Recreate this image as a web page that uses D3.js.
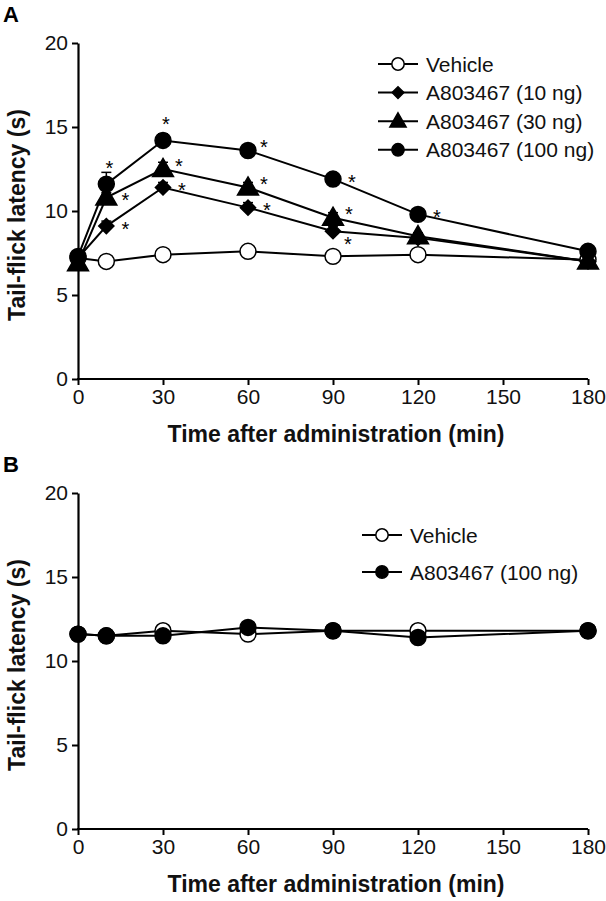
<!DOCTYPE html>
<html><head><meta charset="utf-8">
<script src="https://cdnjs.cloudflare.com/ajax/libs/d3/7.8.5/d3.min.js"></script>
<style>
html,body{margin:0;padding:0;background:#fff;}
svg{display:block;font-family:"Liberation Sans",Arial,sans-serif;}
</style></head>
<body>
<svg id="chart" width="606" height="901"></svg>
<script>
// ---- data ----
const times = [0, 10, 30, 60, 90, 120, 180];
const xTicks = [0, 30, 60, 90, 120, 150, 180];
const yTicks = [0, 5, 10, 15, 20];

// Panel A
const seriesNamesA = ["Vehicle", "A803467 (10 ng)", "A803467 (30 ng)", "A803467 (100 ng)"];
const vehicleA = [7.2, 7.0, 7.4, 7.6, 7.3, 7.4, 7.1];
const a10ngA   = [7.2, 9.1, 11.4, 10.2, 8.8, 8.4, 7.0];
const a30ngA   = [6.9, 10.8, 12.5, 11.4, 9.6, 8.5, 7.0];
const a100ngA  = [7.3, 11.6, 14.2, 13.6, 11.9, 9.8, 7.6];
const vehicleAErr = [0.2, 0.2, 0.2, 0.2, 0.2, 0.2, 0.2];
const a10ngAErr   = [0.2, 0.3, 0.3, 0.3, 0.3, 0.2, 0.2];
const a30ngAErr   = [0.2, 0.3, 0.4, 0.3, 0.3, 0.2, 0.2];
const a100ngAErr  = [0.2, 0.7, 0.4, 0.3, 0.3, 0.3, 0.2];
// significance markers: "" none, otherwise placement of the asterisk
const a10ngSig  = ["", "right", "right", "right", "downright", "", ""];
const a30ngSig  = ["", "right", "upright", "upright", "upright", "", ""];
const a100ngSig = ["", "above", "above", "upright", "right", "right", ""];

// Panel B
const seriesNamesB = ["Vehicle", "A803467 (100 ng)"];
const vehicleB = [11.6, 11.5, 11.8, 11.6, 11.8, 11.8, 11.8];
const a100ngB  = [11.6, 11.5, 11.5, 12.0, 11.8, 11.4, 11.8];

// ---- drawing ----
const svg = d3.select("#chart");
const FONT = '"Liberation Sans", Arial, sans-serif';

const x = d3.scaleLinear().domain([0, 180]).range([78, 588]);

function symbolFor(type) {
  return type === "diamond" ? d3.symbolSquare :
         type === "triangle" ? d3.symbolTriangle : d3.symbolCircle;
}
function sizeFor(type) {
  return type === "diamond" ? 115 : type === "triangle" ? 190 : 200;
}
function markerTransform(type, cx, cy) {
  if (type === "diamond") return `translate(${cx},${cy}) rotate(45)`;
  if (type === "triangle") return `translate(${cx},${cy + 1.5})`;
  return `translate(${cx},${cy})`;
}

function drawPanel(cfg) {
  const y = d3.scaleLinear().domain([0, 20]).range([cfg.y0, cfg.y20]);
  const g = svg.append("g");

  // axes
  const xa = g.append("g").attr("transform", `translate(0,${cfg.y0})`)
    .call(d3.axisBottom(x).tickValues(xTicks).tickSize(6).tickPadding(4).tickSizeOuter(0));
  const ya = g.append("g").attr("transform", `translate(${x(0)},0)`)
    .call(d3.axisLeft(y).tickValues(yTicks).tickSize(6).tickPadding(4).tickSizeOuter(0));
  [xa, ya].forEach(a => {
    a.select(".domain").attr("stroke", "#000").attr("stroke-width", 2.2);
    a.selectAll(".tick line").attr("stroke", "#000").attr("stroke-width", 2);
    a.selectAll("text").attr("font-family", FONT).attr("font-size", 21).attr("fill", "#111");
  });
  xa.select(".domain").attr("d", `M${x(0)-1},0H${x(180)}`);

  // axis titles
  g.append("text").attr("x", (x(0) + x(180)) / 2 + 3).attr("y", cfg.y0 + 63)
    .attr("text-anchor", "middle").attr("font-family", FONT).attr("font-weight", "bold")
    .attr("font-size", 23).attr("fill", "#111").text("Time after administration (min)");
  g.append("text").attr("transform", `translate(${25},${(cfg.y0 + cfg.y20) / 2 + 4}) rotate(-90)`)
    .attr("text-anchor", "middle").attr("font-family", FONT).attr("font-weight", "bold")
    .attr("font-size", 23).attr("fill", "#111").text("Tail-flick latency (s)");
  // panel letter
  g.append("text").attr("x", 3).attr("y", cfg.y20 - 21).attr("font-family", FONT)
    .attr("font-weight", "bold").attr("font-size", 22).attr("fill", "#000").text(cfg.letter);

  const line = d3.line().x(d => x(d.t)).y(d => y(d.v));

  // lines first
  cfg.series.forEach(s => {
    const pts = times.map((t, i) => ({t, v: s.values[i]}));
    g.append("path").datum(pts).attr("d", line).attr("fill", "none")
      .attr("stroke", "#000").attr("stroke-width", 2);
  });
  // error bars
  cfg.series.forEach(s => {
    if (!s.err) return;
    times.forEach((t, i) => {
      const yt = y(s.values[i] + s.err[i]);
      g.append("line").attr("x1", x(t)).attr("x2", x(t)).attr("y1", y(s.values[i])).attr("y2", yt)
        .attr("stroke", "#000").attr("stroke-width", 1.5);
      g.append("line").attr("x1", x(t) - 5).attr("x2", x(t) + 5).attr("y1", yt).attr("y2", yt)
        .attr("stroke", "#000").attr("stroke-width", 1.5);
    });
  });
  // markers
  cfg.series.forEach(s => {
    const sym = d3.symbol().type(symbolFor(s.shape)).size(sizeFor(s.shape));
    times.forEach((t, i) => {
      g.append("path").attr("d", sym())
        .attr("transform", markerTransform(s.shape, x(t), y(s.values[i])))
        .attr("fill", s.open ? "#fff" : "#000").attr("stroke", "#000").attr("stroke-width", 1.5);
    });
  });
  // asterisks
  const off = {above: [3, -21], right: [19, -2], upright: [16, -8], downright: [15, 8]};
  cfg.series.forEach(s => {
    if (!s.sig) return;
    times.forEach((t, i) => {
      const p = s.sig[i];
      if (!p) return;
      const cx = x(t) + off[p][0], cy = y(s.values[i]) + off[p][1];
      g.append("text").attr("x", cx).attr("y", cy + 11.5).attr("text-anchor", "middle")
        .attr("font-family", FONT).attr("font-size", 20).attr("fill", "#000").text("*");
    });
  });

  // legend
  cfg.series.forEach((s, i) => {
    const ly = cfg.legY + i * cfg.legStep;
    g.append("line").attr("x1", cfg.legX).attr("x2", cfg.legX + 40).attr("y1", ly).attr("y2", ly)
      .attr("stroke", "#000").attr("stroke-width", 2);
    const sym = d3.symbol().type(symbolFor(s.shape)).size(sizeFor(s.shape) * 0.6);
    g.append("path").attr("d", sym()).attr("transform", markerTransform(s.shape, cfg.legX + 20, ly - (s.shape === "triangle" ? 0.5 : 0)))
      .attr("fill", s.open ? "#fff" : "#000").attr("stroke", "#000").attr("stroke-width", 1.5);
    g.append("text").attr("x", cfg.legX + 48).attr("y", ly + 7.5).attr("font-family", FONT)
      .attr("font-size", 21).attr("fill", "#111").text(s.name);
  });
}

drawPanel({
  letter: "A", y0: 379, y20: 43, legX: 378, legY: 64, legStep: 28.6,
  series: [
    {name: seriesNamesA[0], values: vehicleA, err: vehicleAErr, shape: "circle", open: true},
    {name: seriesNamesA[1], values: a10ngA, err: a10ngAErr, shape: "diamond", sig: a10ngSig},
    {name: seriesNamesA[2], values: a30ngA, err: a30ngAErr, shape: "triangle", sig: a30ngSig},
    {name: seriesNamesA[3], values: a100ngA, err: a100ngAErr, shape: "circle", sig: a100ngSig}
  ]
});
drawPanel({
  letter: "B", y0: 829, y20: 493, legX: 362, legY: 535, legStep: 37,
  series: [
    {name: seriesNamesB[0], values: vehicleB, shape: "circle", open: true},
    {name: seriesNamesB[1], values: a100ngB, shape: "circle"}
  ]
});
</script>
</body></html>
